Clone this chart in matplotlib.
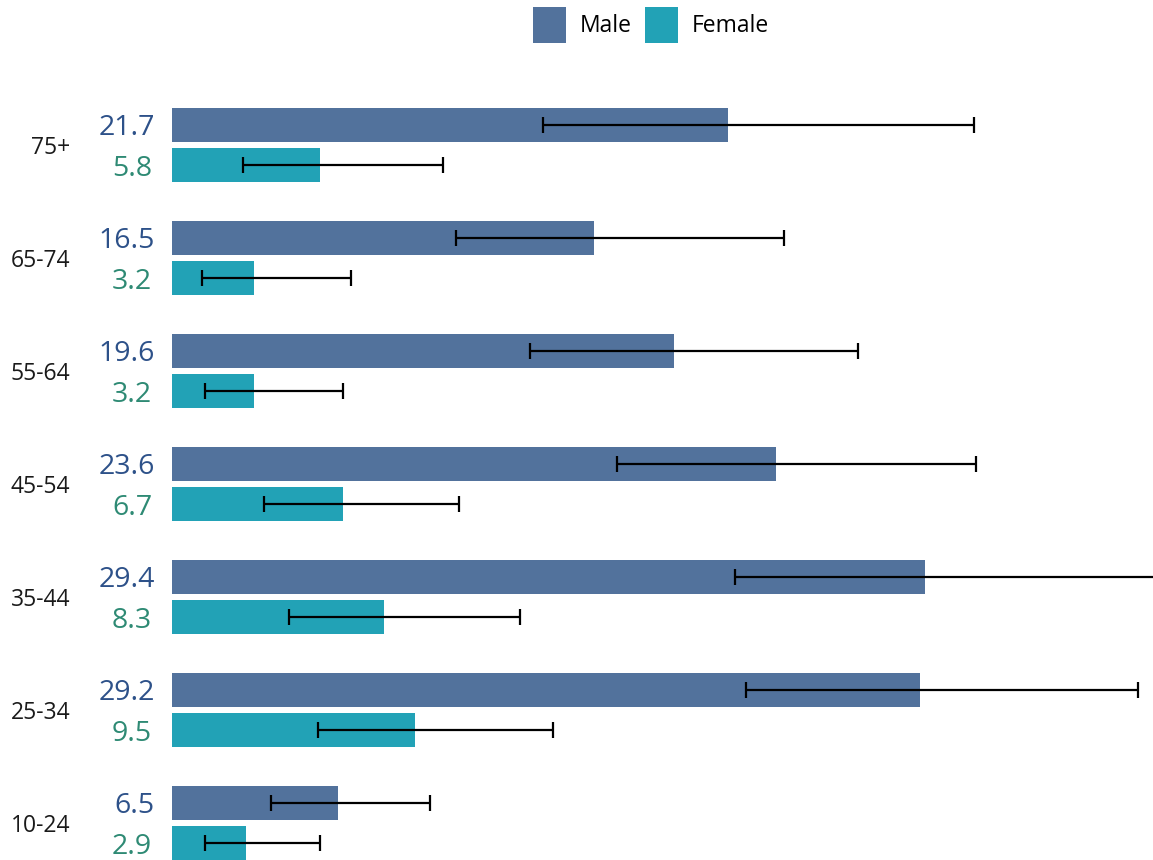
import matplotlib
matplotlib.use("Agg")
import matplotlib.pyplot as plt
import matplotlib.transforms as mtransforms
from matplotlib.patches import Patch
import numpy as np

plt.rcParams['font.family'] = ['Open Sans', 'DejaVu Sans']

age_groups = ["75+", "65-74", "55-64", "45-54", "35-44", "25-34", "10-24"]
male = [21.7, 16.5, 19.6, 23.6, 29.4, 29.2, 6.5]
female = [5.8, 3.2, 3.2, 6.7, 8.3, 9.5, 2.9]
male_low = [14.5, 11.1, 14.0, 17.4, 22.0, 22.4, 3.9]
male_high = [31.3, 23.9, 26.8, 31.4, 39.5, 37.7, 10.1]
female_low = [2.8, 1.2, 1.3, 3.6, 4.6, 5.7, 1.3]
female_high = [10.6, 7.0, 6.7, 11.2, 13.6, 14.9, 5.8]

male_color = "#52729c"
female_color = "#22a2b6"
male_text = "#2d5189"
female_text = "#2e8a74"

fig = plt.figure(figsize=(11.53, 8.6), dpi=100)
ax = fig.add_axes([171.5 / 1153, 0, 1 - 171.5 / 1153, 1])

y = np.arange(len(age_groups))
off = 0.177
h = 0.30

err_kw = dict(fmt="none", ecolor="black", elinewidth=1.6, capsize=5.8, capthick=1.6, zorder=3)

ax.barh(y - off, male, height=h, color=male_color, zorder=2)
ax.barh(y + off, female, height=h, color=female_color, zorder=2)

m = np.array(male)
f = np.array(female)
ax.errorbar(m, y - off, xerr=[m - np.array(male_low), np.array(male_high) - m], **err_kw)
ax.errorbar(f, y + off, xerr=[f - np.array(female_low), np.array(female_high) - f], **err_kw)

for i in range(len(age_groups)):
    ax.annotate(f"{male[i]:.1f}", (0, y[i] - off), xytext=(-12, 0), textcoords="offset points",
                ha="right", va="center_baseline", fontsize=20.5, color=male_text,
                annotation_clip=False)
    ax.annotate(f"{female[i]:.1f}", (0, y[i] + off), xytext=(-14, 0), textcoords="offset points",
                ha="right", va="center_baseline", fontsize=20.5, color=female_text,
                annotation_clip=False)

# group labels on the far left of the figure
trans = mtransforms.blended_transform_factory(fig.transFigure, ax.transData)
for i, name in enumerate(age_groups):
    fig.text(70 / 1153, y[i], name, transform=trans, ha="right", va="center_baseline",
             fontsize=16.5, color="#1a1a1a")

ax.set_xlim(0, 38.3)
ax.set_ylim(6 + 37 / 113, -145 / 113)
ax.axis("off")

handles = [Patch(facecolor=male_color, label="Male"), Patch(facecolor=female_color, label="Female")]
fig.legend(handles=handles, loc="upper center", bbox_to_anchor=(651 / 1153, 1 - 7 / 860),
           ncol=2, frameon=False, fontsize=16.5, handlelength=1.45, handleheight=2.05,
           handletextpad=0.6, columnspacing=0.6, borderpad=0, borderaxespad=0)

plt.savefig("out.png", dpi=100)
